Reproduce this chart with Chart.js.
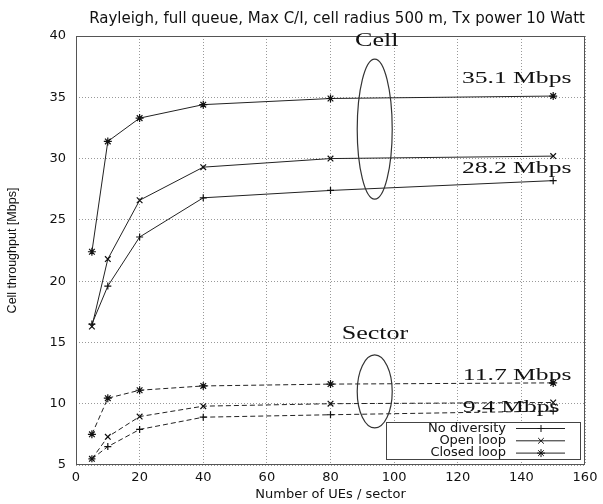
<!DOCTYPE html>
<html>
<head>
<meta charset="utf-8">
<script src="https://cdn.jsdelivr.net/npm/chart.js@4"></script>
<style>
  html, body { margin: 0; padding: 0; background: #fff; }
  #wrap { width: 603px; height: 504px; position: relative; }
</style>
</head>
<body>
<div id="wrap"><canvas id="throughputChart"></canvas></div>
<script>
// values
const ues = [5, 10, 20, 40, 80, 150];
const cellNoDiversity = [16.5, 19.6, 23.6, 26.8, 27.4, 28.2];
const cellOpenLoop = [16.3, 21.8, 26.6, 29.3, 30.0, 30.2];
const cellClosedLoop = [22.4, 31.4, 33.3, 34.4, 34.9, 35.1];
const sectorNoDiversity = [5.5, 6.5, 7.9, 8.9, 9.1, 9.4];
const sectorOpenLoop = [5.5, 7.3, 8.95, 9.8, 10.0, 10.1];
const sectorClosedLoop = [7.5, 10.45, 11.1, 11.45, 11.6, 11.7];

const legendLabels = ['No diversity', 'Open loop', 'Closed loop'];
const legendMarkers = ['cross', 'crossRot', 'star'];

const chartTitle = 'Rayleigh, full queue, Max C/I, cell radius 500 m, Tx power 10 Watt';
const xTitle = 'Number of UEs / sector';
const yTitle = 'Cell throughput [Mbps]';

const ink = '#222';

function toPoints(values) {
  return values.map((v, i) => ({ x: ues[i], y: v }));
}

function series(label, values, marker, dashed) {
  return {
    label: label,
    data: toPoints(values),
    borderColor: ink,
    backgroundColor: ink,
    borderWidth: 1,
    borderDash: dashed ? [5, 3] : [],
    pointStyle: marker,
    pointRadius: marker === 'cross' ? 3.5 : 4,
    pointBorderWidth: 1.2,
    pointBorderColor: '#111',
    tension: 0
  };
}

// frame, ellipses, serif notes and the boxed legend
const decorations = {
  id: 'decorations',
  afterDatasetsDraw(chart) {
    const ctx = chart.ctx;
    const area = chart.chartArea;
    const xs = chart.scales.x;
    const ys = chart.scales.y;

    ctx.save();
    ctx.strokeStyle = '#555';
    ctx.lineWidth = 1;
    ctx.strokeRect(area.left + 0.5, area.top + 0.5, area.width - 1, area.height - 1);

    // ellipses
    ctx.strokeStyle = '#333';
    ctx.lineWidth = 1.2;
    [[93.9, 32.4, 70], [93.9, 11.0, 36.5]].forEach(e => {
      ctx.beginPath();
      ctx.ellipse(xs.getPixelForValue(e[0]), ys.getPixelForValue(e[1]), 17.5, e[2], 0, 0, Math.PI * 2);
      ctx.stroke();
    });

    // serif notes, stretched wide like the scan
    ctx.fillStyle = '#111';
    ctx.textBaseline = 'alphabetic';
    ctx.textAlign = 'left';
    const notes = [
      ['Cell', 87.7, 39.15, 18, 1.45],
      ['35.1 Mbps', 121.3, 36.15, 16, 1.6],
      ['28.2 Mbps', 121.3, 28.8, 16, 1.6],
      ['Sector', 83.5, 15.25, 18, 1.45],
      ['11.7 Mbps', 121.6, 11.95, 16, 1.6],
      ['9.4 Mbps', 121.6, 9.35, 16, 1.6]
    ];
    notes.forEach(n => {
      ctx.save();
      ctx.translate(xs.getPixelForValue(n[1]), ys.getPixelForValue(n[2]));
      ctx.scale(n[4], 1);
      ctx.font = n[3] + 'px "Liberation Serif", serif';
      ctx.fillText(n[0], 0, 0);
      ctx.restore();
    });

    // legend box
    const boxL = 386, boxR = 580, boxT = 422, boxB = 459;
    ctx.fillStyle = '#fff';
    ctx.fillRect(boxL, boxT, boxR - boxL, boxB - boxT);
    ctx.strokeStyle = '#444';
    ctx.lineWidth = 1;
    ctx.strokeRect(boxL + 0.5, boxT + 0.5, boxR - boxL, boxB - boxT);
    ctx.font = '13px "DejaVu Sans", sans-serif';
    ctx.textAlign = 'right';
    ctx.textBaseline = 'middle';
    legendLabels.forEach((label, i) => {
      const y = 428.5 + i * 12.3;
      ctx.fillStyle = '#111';
      ctx.fillText(label, 506, y);
      ctx.strokeStyle = ink;
      ctx.beginPath();
      ctx.moveTo(516, y);
      ctx.lineTo(565, y);
      ctx.stroke();
      ctx.strokeStyle = '#111';
      ctx.fillStyle = '#111';
      Chart.helpers.drawPoint(ctx, {
        pointStyle: legendMarkers[i],
        radius: legendMarkers[i] === 'cross' ? 3.5 : 4,
        rotation: 0,
        borderWidth: 1.2
      }, 541, y);
    });
    ctx.restore();
  }
};

document.addEventListener('DOMContentLoaded', () => {
  const canvas = document.getElementById('throughputChart');

  new Chart(canvas, {
    type: 'line',
    data: {
      datasets: [
        series('No diversity', cellNoDiversity, 'cross', false),
        series('Open loop', cellOpenLoop, 'crossRot', false),
        series('Closed loop', cellClosedLoop, 'star', false),
        series('No diversity (sector)', sectorNoDiversity, 'cross', true),
        series('Open loop (sector)', sectorOpenLoop, 'crossRot', true),
        series('Closed loop (sector)', sectorClosedLoop, 'star', true)
      ]
    },
    options: {
      responsive: true,
      maintainAspectRatio: false,
      animation: false,
      layout: { padding: { left: 0, right: 18, top: 0, bottom: 0 } },
      plugins: {
        legend: { display: false },
        tooltip: { enabled: false },
        title: {
          display: true,
          text: chartTitle,
          align: 'end',
          color: '#111',
          font: { family: '"DejaVu Sans", sans-serif', size: 15, weight: 'normal', lineHeight: 1.2 },
          padding: { top: 10, bottom: 8 }
        }
      },
      scales: {
        x: {
          type: 'linear',
          min: 0,
          max: 160,
          afterFit: scale => { scale.height = 39; },
          ticks: {
            stepSize: 20,
            color: '#111',
            padding: 5,
            maxRotation: 0,
            font: { family: '"DejaVu Sans", sans-serif', size: 13 }
          },
          grid: { color: '#999', drawTicks: false, lineWidth: 1 },
          border: { display: false, dash: [1, 2] },
          title: {
            display: true,
            text: xTitle,
            color: '#111',
            font: { family: '"DejaVu Sans", sans-serif', size: 13 },
            padding: { top: 0, bottom: 2 }
          }
        },
        y: {
          min: 5,
          max: 40,
          afterFit: scale => { scale.width = 76; },
          ticks: {
            stepSize: 5,
            color: '#111',
            padding: 10,
            font: { family: '"DejaVu Sans", sans-serif', size: 13 }
          },
          grid: { color: '#999', drawTicks: false, lineWidth: 1 },
          border: { display: false, dash: [1, 2] },
          title: {
            display: true,
            text: yTitle,
            color: '#111',
            font: { family: '"Liberation Sans", sans-serif', size: 12.5 },
            padding: { top: 5, bottom: 0 }
          }
        }
      }
    },
    plugins: [decorations]
  });
});
</script>
</body>
</html>
